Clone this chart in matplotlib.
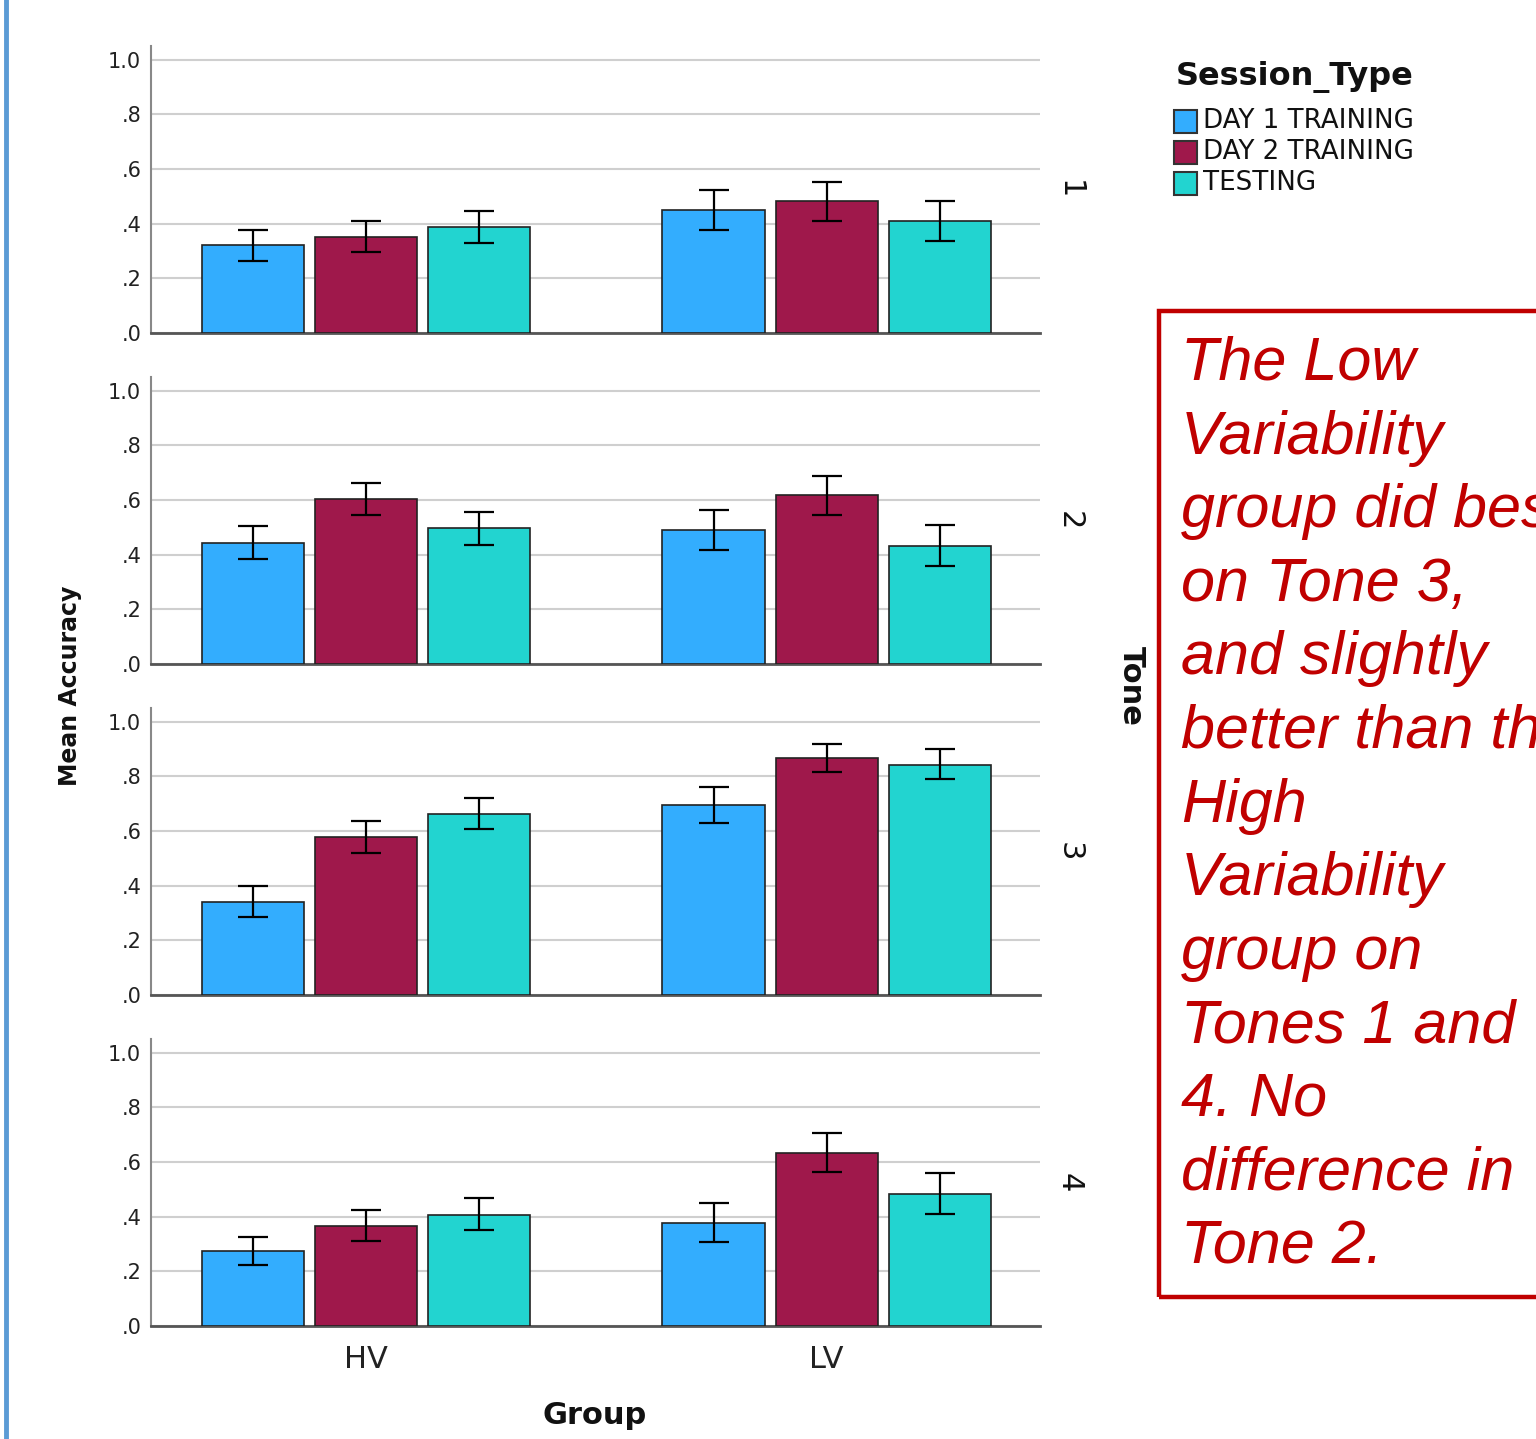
import numpy as np
import matplotlib
matplotlib.use("Agg")
import matplotlib.pyplot as plt
from matplotlib.patches import Rectangle

# ---------------- data ----------------
groups = ["HV", "LV"]
tones = ["1", "2", "3", "4"]
sessions = ["DAY 1 TRAINING", "DAY 2 TRAINING", "TESTING"]
colors = ["#33adfe", "#9f184b", "#22d4d0"]

# mean accuracy [tone][session] for each group
hv_mean = np.array([[0.322, 0.352, 0.388],
                    [0.443, 0.604, 0.498],
                    [0.341, 0.579, 0.663],
                    [0.275, 0.366, 0.407]])
lv_mean = np.array([[0.451, 0.484, 0.410],
                    [0.491, 0.619, 0.432],
                    [0.696, 0.868, 0.842],
                    [0.377, 0.634, 0.484]])
# error bar bounds
hv_lo = np.array([[0.264, 0.297, 0.330],
                  [0.385, 0.546, 0.436],
                  [0.286, 0.520, 0.608],
                  [0.223, 0.311, 0.352]])
hv_hi = np.array([[0.377, 0.410, 0.447],
                  [0.505, 0.663, 0.557],
                  [0.399, 0.637, 0.722],
                  [0.326, 0.425, 0.469]])
lv_lo = np.array([[0.377, 0.410, 0.337],
                  [0.418, 0.546, 0.359],
                  [0.630, 0.817, 0.791],
                  [0.308, 0.564, 0.410]])
lv_hi = np.array([[0.524, 0.553, 0.484],
                  [0.564, 0.689, 0.509],
                  [0.762, 0.919, 0.901],
                  [0.451, 0.707, 0.560]])

yticks = [0.0, 0.2, 0.4, 0.6, 0.8, 1.0]
ytick_labels = [".0", ".2", ".4", ".6", ".8", "1.0"]

note_lines = ["The Low", "Variability", "group did best", "on Tone 3,",
              "and slightly", "better than the", "High", "Variability",
              "group on", "Tones 1 and", "4. No", "difference in", "Tone 2."]

# ---------------- figure ----------------
W, H = 1536, 1439
fig = plt.figure(figsize=(W / 100, H / 100), dpi=100)

def fx(px):
    return px / W

def fy(py):
    return 1 - py / H

ax_left_px, ax_right_px = 151, 1040
ax_h_px = 287
zero_px = [333, 664, 995, 1326]

means = np.stack([hv_mean, lv_mean], axis=0)  # group, tone, session
los = np.stack([hv_lo, lv_lo], axis=0)
his = np.stack([hv_hi, lv_hi], axis=0)

xg = np.arange(len(groups))
bar_w = 0.2217
offs = np.array([-1, 0, 1]) * 0.2457

axes = []
for t in range(len(tones)):
    y0 = zero_px[t]
    ax = fig.add_axes([fx(ax_left_px), fy(y0), fx(ax_right_px - ax_left_px), ax_h_px / H])
    axes.append(ax)
    for s in range(len(sessions)):
        vals = means[:, t, s]
        ax.bar(xg + offs[s], vals, width=bar_w, color=colors[s],
               edgecolor="#222222", linewidth=1.2, zorder=3)
        yerr = np.vstack([vals - los[:, t, s], his[:, t, s] - vals])
        ax.errorbar(xg + offs[s], vals, yerr=yerr, fmt="none", ecolor="black",
                    elinewidth=1.6, capsize=10.5, capthick=1.6, zorder=4)
    ax.set_xlim(-0.467, 1.463)
    ax.set_ylim(0, 1.05)
    ax.set_yticks(yticks)
    ax.set_yticklabels(ytick_labels, fontsize=15, color="#222222")
    ax.yaxis.grid(True, color="#cfcfcf", linewidth=1.5, zorder=0)
    ax.set_axisbelow(True)
    ax.tick_params(axis="y", length=0, pad=7)
    ax.tick_params(axis="x", length=0, pad=14)
    ax.set_xticks(xg)
    if t == len(tones) - 1:
        ax.set_xticklabels(groups, fontsize=22, color="#222222")
    else:
        ax.set_xticklabels([])
    for sp in ["top", "right"]:
        ax.spines[sp].set_visible(False)
    ax.spines["left"].set_color("#888888")
    ax.spines["left"].set_linewidth(1.5)
    ax.spines["bottom"].set_color("#555555")
    ax.spines["bottom"].set_linewidth(2)
    # panel (tone) label
    fig.text(fx(1069), fy(y0 - ax_h_px / 2), tones[t], rotation=-90,
             ha="center", va="center", fontsize=22, color="#111111")

# axis titles
fig.text(fx(595), fy(1416), "Group", fontsize=22, fontweight="bold",
         ha="center", va="center", color="#111111")
fig.text(fx(70), fy(686), "Mean Accuracy", fontsize=17, fontweight="bold",
         rotation=90, ha="center", va="center", color="#111111")
fig.text(fx(1131), fy(686), "Tone", fontsize=22, fontweight="bold",
         rotation=-90, ha="center", va="center", color="#111111")

# legend (manual)
fig.text(fx(1176), fy(77), "Session_Type", fontsize=23, fontweight="bold",
         ha="left", va="center", color="#111111")
for i, (lab, c) in enumerate(zip(sessions, colors)):
    yc = 121 + 31 * i
    fig.patches.append(Rectangle((fx(1174), fy(yc + 12)), fx(23), 23 / H,
                                 transform=fig.transFigure, facecolor=c,
                                 edgecolor="#333333", linewidth=1.5))
    fig.text(fx(1203), fy(yc), lab, fontsize=18.8, ha="left", va="center",
             color="#111111")

# left decorative blue line
fig.add_artist(plt.Line2D([fx(6), fx(6)], [0, 1], transform=fig.transFigure,
                          color="#5b9bd5", linewidth=3.5))

# annotation box
fig.patches.append(Rectangle((fx(1159), fy(1297)), fx(1600 - 1159), (1297 - 311) / H,
                             transform=fig.transFigure, facecolor="none",
                             edgecolor="#c00000", linewidth=3.2, clip_on=False))
for i, line in enumerate(note_lines):
    yb = 380 + 73.6 * i
    fig.text(fx(1181), fy(yb), line, fontsize=44, fontstyle="italic",
             family="Liberation Sans", color="#c00000", ha="left", va="baseline")

fig.savefig("out.png", dpi=100)
